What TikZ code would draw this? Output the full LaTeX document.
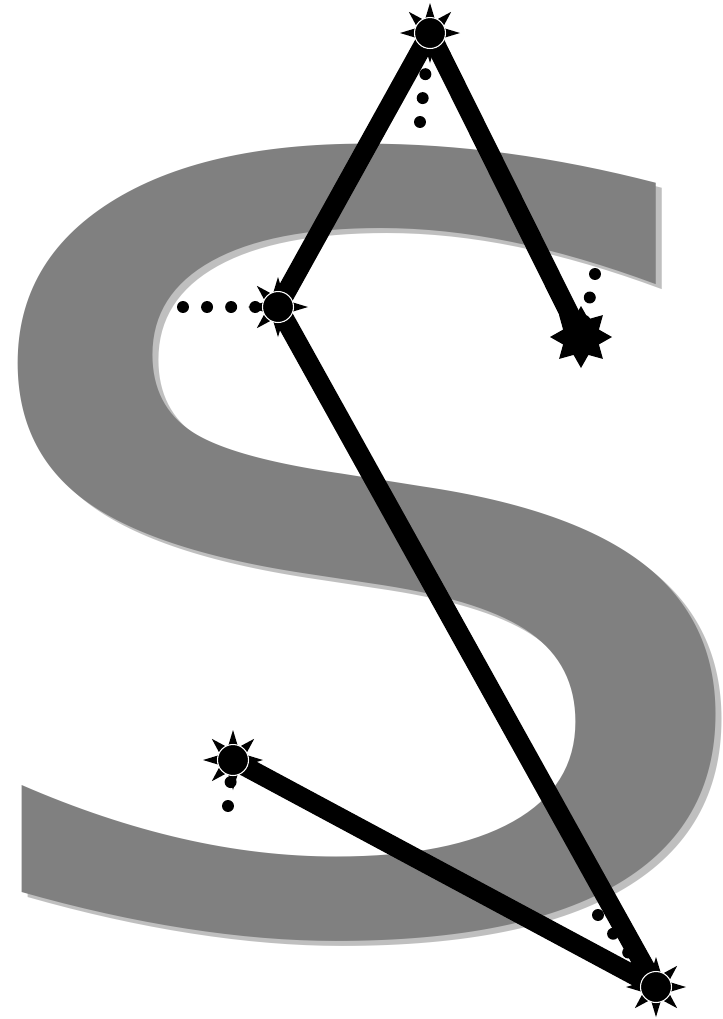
\documentclass[tikz,border=0pt]{standalone}
\usepackage{fontspec}
\setmainfont{DejaVu Sans}
\usetikzlibrary{shapes.geometric}
\begin{document}
\begin{tikzpicture}[x=0.02cm, y=-0.02cm,
    letter/.style={inner sep=0pt, anchor=base west, xscale=1.29, yscale=1.0,
      font=\fontsize{600}{600}\selectfont},
    trail/.style={line width=11pt, line join=round, line cap=round},
    dots/.style={line width=6.8pt, line cap=round, dash pattern=on 0pt off 13.7pt},
    starmark/.style={star, star points=8, star point ratio=1.6, minimum size=62*0.02cm,
      inner sep=0pt, fill=black}]
\useasboundingbox (0,0) rectangle (723,1019);

% big letter with its shadow
\node[letter, text=black!25] (shadow) at (-65.7,931) {S};
\node[letter, text=black!50] (letter) at (-71.7,926) {S};

% corners of the path
\coordinate (A) at (430,33);
\coordinate (B) at (278,307);
\coordinate (C) at (581,337);
\coordinate (D) at (656,987);
\coordinate (E) at (233,760);

% loose ends of the dotted tails
\coordinate (tA) at (420,122);
\coordinate (tB) at (183,307);
\coordinate (tC) at (595,274);
\coordinate (tD) at (598,915);
\coordinate (tE) at (228,806);

\draw[trail] (C) -- (A) -- (B) -- (D) -- (E);

\draw[dots] (tA) -- (A);
\draw[dots] (tB) -- (B);
\draw[dots] (tC) -- (C);
\draw[dots] (tD) -- (D);
\draw[dots] (tE) -- (E);

% sun markers
\foreach \p in {A,B,D,E} {
  \begin{scope}[shift={(\p)}]
    \foreach \a in {0,45,...,315}
      \fill (\a:30) -- (\a+25:13) -- (\a-25:13) -- cycle;
    \fill[draw=white, line width=0.6pt] (0,0) circle (15.5);
  \end{scope}
}
\node[starmark] (cmark) at (C) {};
\end{tikzpicture}
\end{document}
